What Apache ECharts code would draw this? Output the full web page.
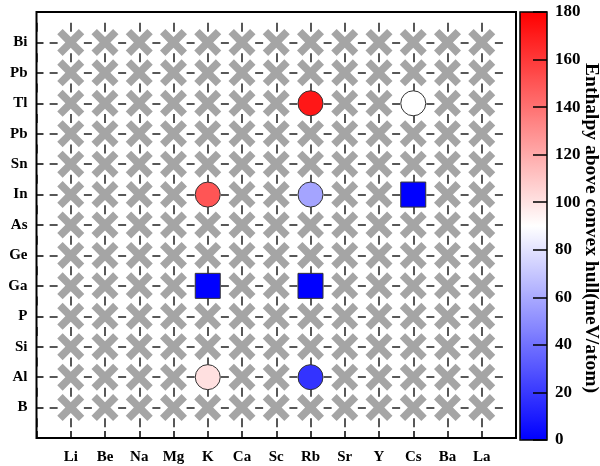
<!DOCTYPE html>
<html><head><meta charset="utf-8">
<script src="https://cdn.jsdelivr.net/npm/echarts@6/dist/echarts.min.js"></script>
<style>html,body{margin:0;padding:0;background:#fff}#c{width:600px;height:466px}</style>
</head><body><div id="c"></div>
<script>
// ---- data ----
const xLabels = ['Li','Be','Na','Mg','K','Ca','Sc','Rb','Sr','Y','Cs','Ba','La'];
const yLabels = ['B','Al','Si','P','Ga','Ge','As','In','Sn','Pb','Tl','Pb','Bi'];
// circles: [x element, y element, enthalpy above hull (meV/atom)]
const circlePoints = [['Rb','Tl',172],['Cs','Tl',90],['K','In',150],['Rb','In',58],['K','Al',101],['Rb','Al',18]];
// squares: stable / on hull
const squarePoints = [['Cs','In',0],['K','Ga',0],['Rb','Ga',0]];
const colorbarTicks = [0,20,40,60,80,100,120,140,160,180];
const colorbarTitle = 'Enthalpy above convex hull(meV/atom)';

// ---- build ----
const toXY = p => [xLabels.indexOf(p[0]), yLabels.indexOf(p[1]), p[2]];
const circleData = circlePoints.map(toXY);
const squareData = squarePoints.map(toXY);
const used = new Set(circleData.concat(squareData).map(d => d[0] + '_' + d[1]));
const crossData = [];
for (let i = 0; i < xLabels.length; i++) for (let j = 0; j < yLabels.length; j++)
  if (!used.has(i + '_' + j)) crossData.push([i, j]);

const G = {left: 36.5, top: 12, width: 479.5, height: 426};
const nx = xLabels.length + 1, ny = yLabels.length + 1;
const sx = G.width / nx, sy = G.height / ny;   // one cell
const dx = 8, dy = 9;
const font = '"Liberation Serif","Times New Roman",serif';
const crossPath = 'path://M0 20L20 0L50 30L80 0L100 20L70 50L100 80L80 100L50 70L20 100L0 80L30 50Z';
const CB = {left: 520, top: 12, width: 27, height: 428};
const cbMin = colorbarTicks[0], cbMax = colorbarTicks[colorbarTicks.length - 1];
const tickStyle = {color: '#000', width: 1.5};
const lab = {color: '#000', fontFamily: font, fontWeight: 'bold'};

const chart = echarts.init(document.getElementById('c'), null, {renderer: 'canvas'});
chart.setOption({
  animation: false,
  backgroundColor: '#fff',
  grid: [
    Object.assign({show: true, borderColor: '#000', borderWidth: 2, backgroundColor: 'transparent', z: 5}, G),
    Object.assign({show: true, borderColor: '#000', borderWidth: 1.5, backgroundColor: 'transparent', z: 10}, CB)
  ],
  xAxis: [
    // labels + dashed vertical grid lines
    {type: 'value', gridIndex: 0, position: 'bottom', min: -1, max: xLabels.length, interval: 1,
     axisLine: {show: false, onZero: false}, axisTick: {show: false},
     axisLabel: Object.assign({margin: 12, fontSize: 15, formatter: v => xLabels[v] || ''}, lab),
     splitLine: {show: true, lineStyle: {color: '#222', width: 1.5, type: [dy, sy - dy], dashOffset: (sy + dy) / 2}}},
    // inward ticks on the bottom edge
    {type: 'value', gridIndex: 0, position: 'top', offset: -G.height, min: -1, max: xLabels.length, interval: 1, z: 6,
     axisLine: {show: false, onZero: false}, axisTick: {show: true, length: 7, lineStyle: tickStyle},
     axisLabel: {show: false}, splitLine: {show: false}},
    {type: 'value', gridIndex: 1, min: 0, max: 1, show: false, axisLine: {onZero: false}}
  ],
  yAxis: [
    {type: 'value', gridIndex: 0, position: 'left', min: -1, max: yLabels.length, interval: 1,
     axisLine: {show: false, onZero: false}, axisTick: {show: false},
     axisLabel: Object.assign({margin: 9, fontSize: 15, formatter: v => yLabels[v] || ''}, lab),
     splitLine: {show: true, lineStyle: {color: '#222', width: 1.5, type: [dx, sx - dx], dashOffset: (sx + dx) / 2}}},
    // inward ticks on the left edge
    {type: 'value', gridIndex: 0, position: 'right', offset: -G.width, min: -1, max: yLabels.length, interval: 1, z: 6,
     axisLine: {show: false, onZero: false}, axisTick: {show: true, length: 7, lineStyle: tickStyle},
     axisLabel: {show: false}, splitLine: {show: false}},
    // colorbar ticks: axis placed on the bar's right edge, ticks pointing into the bar
    {type: 'value', gridIndex: 1, position: 'left', offset: -CB.width, min: cbMin, max: cbMax,
     interval: colorbarTicks[1] - colorbarTicks[0], z: 10,
     axisLine: {show: false, onZero: false},
     axisTick: {show: true, length: 14, lineStyle: tickStyle},
     axisLabel: {show: false}, splitLine: {show: false}},
    // colorbar labels on the right
    {type: 'value', gridIndex: 1, position: 'right', min: cbMin, max: cbMax,
     interval: colorbarTicks[1] - colorbarTicks[0], z: 10,
     axisLine: {show: false, onZero: false}, axisTick: {show: false},
     axisLabel: Object.assign({margin: 8, fontSize: 17,
       formatter: v => colorbarTicks.indexOf(v) >= 0 ? String(v) : ''}, lab),
     splitLine: {show: false}}
  ],
  visualMap: {
    type: 'continuous', min: cbMin, max: cbMax, dimension: 2, seriesIndex: [1, 2],
    calculable: false, left: CB.left, top: CB.top, itemWidth: CB.width, itemHeight: CB.height, padding: 0, z: 2,
    inRange: {color: ['#0000ff', '#ffffff', '#ff0000']}, text: null, showLabel: false
  },
  series: [
    {type: 'scatter', xAxisIndex: 0, yAxisIndex: 0, data: crossData, symbol: crossPath, symbolSize: 27,
     itemStyle: {color: '#a5a5a5', opacity: 1}, silent: true, z: 3},
    {type: 'scatter', xAxisIndex: 0, yAxisIndex: 0, data: circleData, symbol: 'circle', symbolSize: 25,
     itemStyle: {borderColor: '#333', borderWidth: 1, opacity: 1}, z: 4},
    {type: 'scatter', xAxisIndex: 0, yAxisIndex: 0, data: squareData, symbol: 'rect', symbolSize: 25,
     itemStyle: {borderColor: '#333', borderWidth: 1, opacity: 1}, z: 4}
  ],
  graphic: [{
    type: 'text', x: 591, y: 228, rotation: -Math.PI / 2,
    style: {text: colorbarTitle, fill: '#000', font: 'bold 19.5px ' + font, textAlign: 'center', textVerticalAlign: 'middle'}
  }]
});
</script></body></html>
